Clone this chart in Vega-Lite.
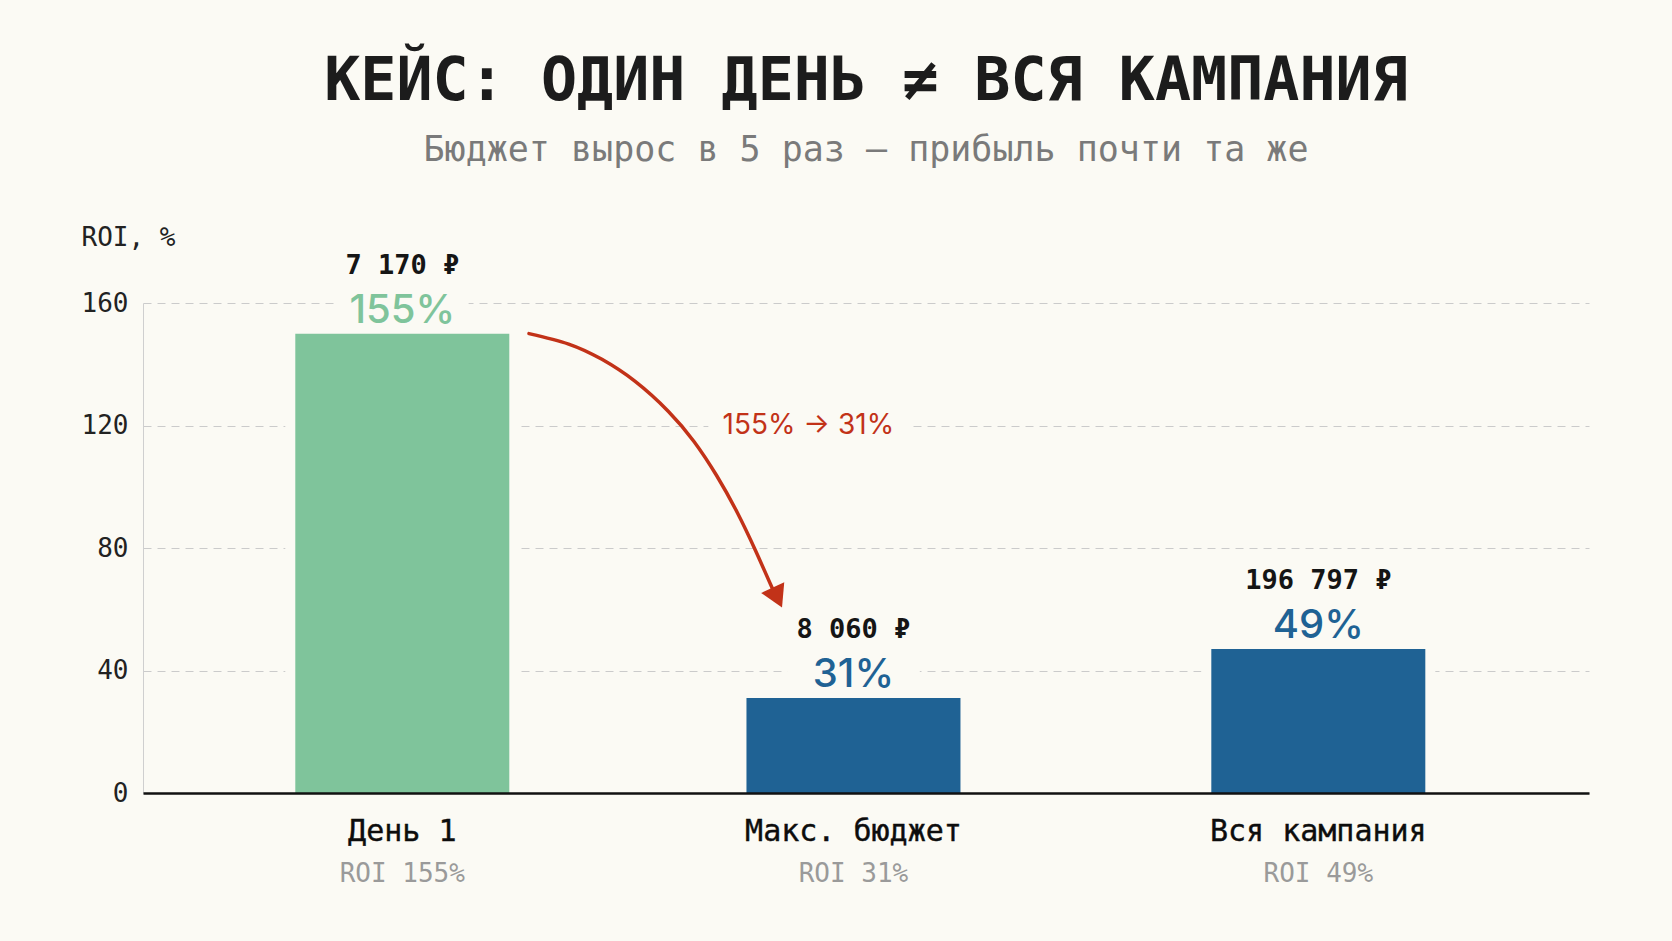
{
  "$schema": "https://vega.github.io/schema/vega-lite/v6.json",
  "width": 1446,
  "height": 490,
  "autosize": {"type": "none"},
  "padding": {"left": 143, "top": 303, "right": 83, "bottom": 148},
  "background": "#fbfaf4",
  "title": {
    "text": "КЕЙС: ОДИН ДЕНЬ ≠ ВСЯ КАМПАНИЯ",
    "subtitle": "Бюджет вырос в 5 раз — прибыль почти та же",
    "anchor": "middle",
    "frame": "group",
    "font": "DejaVu Sans Mono",
    "fontSize": 60,
    "fontWeight": "bold",
    "color": "#1c1c1c",
    "subtitleFont": "DejaVu Sans Mono",
    "subtitleFontSize": 35,
    "subtitleColor": "#7a7a7a",
    "subtitlePadding": 20,
    "offset": 55
  },
  "config": {
    "view": {"stroke": null},
    "text": {"font": "DejaVu Sans Mono"}
  },
  "datasets": {
    "bars": [
      {"stage": "День 1", "pos": 0, "bar": 150, "pct": "155%", "profit": "7 170 ₽", "roi": "ROI 155%"},
      {"stage": "Макс. бюджет", "pos": 0.99, "bar": 31, "pct": "31%", "profit": "8 060 ₽", "roi": "ROI 31%"},
      {"stage": "Вся кампания", "pos": 2.01, "bar": 47, "pct": "49%", "profit": "196 797 ₽", "roi": "ROI 49%"}
    ],
    "arrow": [
      {"px": 0.278, "py": 150.0},
      {"px": 0.365, "py": 146.6},
      {"px": 0.438, "py": 141.6},
      {"px": 0.511, "py": 134.4},
      {"px": 0.584, "py": 124.6},
      {"px": 0.640, "py": 114.8},
      {"px": 0.690, "py": 103.6},
      {"px": 0.735, "py": 91.6},
      {"px": 0.775, "py": 79.2},
      {"px": 0.812, "py": 66.8}
    ],
    "head": [
      {"px": 0.823, "py": 63.8}
    ],
    "note": [
      {"px": 0.891, "py": 120, "label": "155% → 31%"}
    ]
  },
  "layer": [
    {
      "data": {"name": "bars"},
      "mark": {"type": "bar", "width": 234, "color": "#fbfaf4"},
      "encoding": {
        "x": {
          "field": "pos", "type": "quantitative",
          "scale": {"domain": [-0.558, 2.593], "nice": false, "zero": false},
          "axis": {"labels": false, "ticks": false, "grid": false, "title": null, "domainColor": "#111111", "domainWidth": 2.5, "zindex": 1}
        },
        "y": {
          "field": "bar", "type": "quantitative",
          "scale": {"domain": [0, 160], "nice": false},
          "axis": {
            "values": [0, 40, 80, 120, 160],
            "ticks": false,
            "labelFont": "DejaVu Sans Mono",
            "labelFontSize": 26,
            "labelColor": "#222222",
            "labelPadding": 15,
            "domainColor": "#cfcfcf",
            "gridColor": "#cbcbcb",
            "gridDash": [8, 6],
            "gridWidth": 1.2,
            "title": "ROI, %",
            "titleAngle": 0,
            "titleAlign": "left",
            "titleBaseline": "middle",
            "titleX": -62,
            "titleY": -66,
            "titleFont": "DejaVu Sans Mono",
            "titleFontSize": 26,
            "titleFontWeight": "normal",
            "titleColor": "#222222"
          }
        }
      }
    },
    {
      "data": {"name": "bars"},
      "mark": {"type": "bar", "width": 214},
      "encoding": {
        "x": {"field": "pos", "type": "quantitative"},
        "y": {"field": "bar", "type": "quantitative"},
        "color": {
          "field": "stage", "type": "nominal",
          "scale": {"domain": ["День 1", "Макс. бюджет", "Вся кампания"], "range": ["#7fc49b", "#1f6294", "#1f6294"]},
          "legend": null
        }
      }
    },
    {
      "data": {"name": "bars"},
      "mark": {"type": "point", "shape": "M-1,-0.3L1,-0.3L1,0.3L-1,0.3Z", "size": 17600, "filled": true, "color": "#fbfaf4", "opacity": 1, "yOffset": -26},
      "encoding": {
        "x": {"field": "pos", "type": "quantitative"},
        "y": {"field": "bar", "type": "quantitative"}
      }
    },
    {
      "data": {"name": "bars"},
      "mark": {"type": "text", "font": "Inter", "fontSize": 40, "fontWeight": 500, "baseline": "alphabetic", "dy": -11},
      "encoding": {
        "x": {"field": "pos", "type": "quantitative"},
        "y": {"field": "bar", "type": "quantitative"},
        "text": {"field": "pct"},
        "color": {"field": "stage", "type": "nominal", "legend": null}
      }
    },
    {
      "data": {"name": "bars"},
      "mark": {"type": "text", "font": "DejaVu Sans Mono", "fontSize": 27, "fontWeight": "bold", "baseline": "alphabetic", "dy": -60, "color": "#151515"},
      "encoding": {
        "x": {"field": "pos", "type": "quantitative"},
        "y": {"field": "bar", "type": "quantitative"},
        "text": {"field": "profit"}
      }
    },
    {
      "data": {"name": "bars"},
      "mark": {"type": "text", "font": "DejaVu Sans Mono", "fontSize": 30, "fontWeight": "normal", "baseline": "middle", "dy": 39, "color": "#0d0d0d", "stroke": "#0d0d0d", "strokeWidth": 0.4},
      "encoding": {
        "x": {"field": "pos", "type": "quantitative"},
        "y": {"datum": 0, "type": "quantitative"},
        "text": {"field": "stage"}
      }
    },
    {
      "data": {"name": "bars"},
      "mark": {"type": "text", "font": "DejaVu Sans Mono", "fontSize": 26, "baseline": "middle", "dy": 81, "color": "#9a9a9a"},
      "encoding": {
        "x": {"field": "pos", "type": "quantitative"},
        "y": {"datum": 0, "type": "quantitative"},
        "text": {"field": "roi"}
      }
    },
    {
      "data": {"name": "note"},
      "mark": {"type": "point", "shape": "M-1,-0.1L1,-0.1L1,0.1L-1,0.1Z", "size": 40000, "filled": true, "color": "#fbfaf4", "opacity": 1},
      "encoding": {
        "x": {"field": "px", "type": "quantitative"},
        "y": {"field": "py", "type": "quantitative"}
      }
    },
    {
      "data": {"name": "arrow"},
      "mark": {"type": "line", "color": "#c23218", "strokeWidth": 3.5, "interpolate": "natural", "strokeCap": "round"},
      "encoding": {
        "x": {"field": "px", "type": "quantitative"},
        "y": {"field": "py", "type": "quantitative"}
      }
    },
    {
      "data": {"name": "head"},
      "mark": {"type": "point", "shape": "triangle-down", "filled": true, "size": 650, "angle": -25, "color": "#c23218", "opacity": 1},
      "encoding": {
        "x": {"field": "px", "type": "quantitative"},
        "y": {"field": "py", "type": "quantitative"}
      }
    },
    {
      "data": {"name": "note"},
      "mark": {"type": "text", "font": "Inter", "fontSize": 28, "fontWeight": 400, "baseline": "middle", "color": "#c23218"},
      "encoding": {
        "x": {"field": "px", "type": "quantitative"},
        "y": {"field": "py", "type": "quantitative"},
        "text": {"field": "label"}
      }
    }
  ]
}
